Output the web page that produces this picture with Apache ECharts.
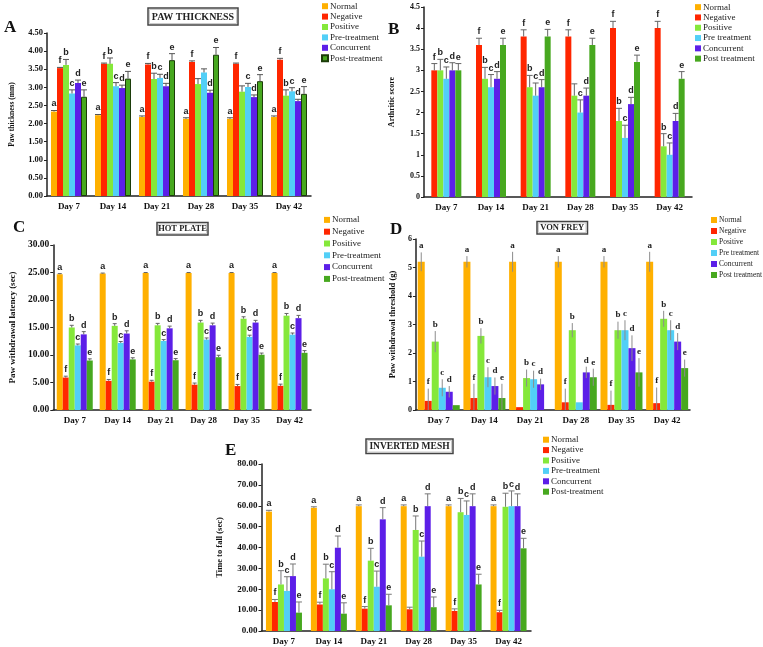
<!DOCTYPE html>
<html>
<head>
<meta charset="utf-8">
<script src="https://cdn.jsdelivr.net/npm/echarts@6/dist/echarts.min.js"></script>
<style>
  body { margin: 0; background: #fff; }
  #wrap { position: relative; width: 763px; height: 647px; overflow: hidden; }
  .panel { position: absolute; }
</style>
</head>
<body>
<div id="wrap">
  <div id="chartA" class="panel" style="left:0;top:0;width:386px;height:215px"></div>
  <div id="chartB" class="panel" style="left:380px;top:0;width:383px;height:215px"></div>
  <div id="chartC" class="panel" style="left:0;top:210px;width:386px;height:215px"></div>
  <div id="chartD" class="panel" style="left:380px;top:210px;width:383px;height:215px"></div>
  <div id="chartE" class="panel" style="left:180px;top:425px;width:440px;height:222px"></div>
</div>
<script>
// shared
const days = ['Day 7', 'Day 14', 'Day 21', 'Day 28', 'Day 35', 'Day 42'];
const groupsHyphen = ['Normal', 'Negative', 'Positive', 'Pre-treatment', 'Concurrent', 'Post-treatment'];
const groupsSpace = ['Normal', 'Negative', 'Positive', 'Pre treatment', 'Concurrent', 'Post treatment'];
const colors = ['#ffb000', '#ff2600', '#85e83a', '#52cff7', '#5c1fe8', '#47a81f'];

// A - paw thickness (mm)
const pawMean = [
  [2.33, 2.23, 2.18, 2.13, 2.13, 2.18],
  [3.53, 3.65, 3.63, 3.70, 3.65, 3.76],
  [3.62, 3.65, 3.23, 3.09, 2.88, 2.77],
  [2.83, 3.03, 3.26, 3.41, 3.01, 2.89],
  [3.12, 2.98, 3.03, 2.85, 2.73, 2.62],
  [2.74, 3.24, 3.75, 3.90, 3.17, 2.82]
];
const pawErr = [
  [0.03, 0.02, 0.03, 0.03, 0.03, 0.03],
  [0.02, 0.02, 0.03, 0.03, 0.02, 0.04],
  [0.15, 0.16, 0.16, 0.15, 0.16, 0.16],
  [0.10, 0.10, 0.10, 0.10, 0.10, 0.10],
  [0.08, 0.08, 0.08, 0.07, 0.06, 0.05],
  [0.19, 0.20, 0.18, 0.20, 0.18, 0.20]
];
const pawLetters = [
  ['a', 'a', 'a', 'a', 'a', 'a'],
  ['f', 'f', 'f', 'f', 'f', 'f'],
  ['b', 'b', 'b', '', '', 'b'],
  ['c', 'c', 'c', '', 'c', 'c'],
  ['d', 'd', 'd', 'd', 'd', 'd'],
  ['e', 'e', 'e', 'e', 'e', 'e']
];

// B - arthritic score (no Normal bars)
const arthMean = [
  [],
  [3.0, 3.6, 3.8, 3.8, 4.0, 4.0],
  [3.0, 2.8, 2.6, 2.4, 1.8, 1.2],
  [2.8, 2.6, 2.4, 2.0, 1.4, 1.0],
  [3.0, 2.8, 2.6, 2.4, 2.2, 1.8],
  [3.0, 3.6, 3.8, 3.6, 3.2, 2.8]
];
const arthErr = [
  [],
  [0.16, 0.16, 0.16, 0.16, 0.16, 0.16],
  [0.26, 0.27, 0.28, 0.28, 0.30, 0.30],
  [0.28, 0.30, 0.30, 0.30, 0.30, 0.28],
  [0.18, 0.17, 0.18, 0.18, 0.16, 0.18],
  [0.16, 0.16, 0.17, 0.16, 0.16, 0.17]
];
const arthLetters = [
  [],
  ['f', 'f', 'f', 'f', 'f', 'f'],
  ['b', 'b', 'b', '', 'b', 'b'],
  ['c', 'c', 'c', 'c', 'c', 'c'],
  ['d', 'd', 'd', 'd', 'd', 'd'],
  ['e', 'e', 'e', 'e', 'e', 'e']
];

// C - hot plate (sec)
const hotMean = [
  [24.7, 24.8, 24.9, 24.9, 24.9, 24.9],
  [5.9, 5.3, 5.15, 4.6, 4.35, 4.4],
  [15.0, 15.3, 15.4, 15.9, 16.6, 17.15],
  [11.75, 12.2, 12.55, 12.8, 13.3, 13.7],
  [13.75, 13.9, 14.85, 15.4, 15.9, 16.7],
  [9.0, 9.2, 9.05, 9.6, 10.05, 10.4]
];
const hotErr = [
  [0.1, 0.1, 0.1, 0.1, 0.1, 0.1],
  [0.25, 0.25, 0.25, 0.3, 0.3, 0.3],
  [0.4, 0.4, 0.35, 0.4, 0.35, 0.4],
  [0.25, 0.25, 0.25, 0.3, 0.3, 0.3],
  [0.5, 0.5, 0.4, 0.4, 0.4, 0.5],
  [0.3, 0.3, 0.3, 0.35, 0.3, 0.4]
];
const hotLetters = [
  ['a', 'a', 'a', 'a', 'a', 'a'],
  ['f', 'f', 'f', 'f', 'f', 'f'],
  ['b', 'b', 'b', 'b', 'b', 'b'],
  ['c', 'c', 'c', 'c', 'c', 'c'],
  ['d', 'd', 'd', 'd', 'd', 'd'],
  ['e', 'e', 'e', 'e', 'e', 'e']
];

// D - von frey (g)
const vonMean = [
  [5.2, 5.2, 5.2, 5.2, 5.2, 5.2],
  [0.32, 0.42, 0.1, 0.27, 0.18, 0.24],
  [2.4, 2.6, 1.12, 2.8, 2.8, 3.2],
  [0.78, 1.15, 1.08, 0.27, 2.8, 2.8],
  [0.64, 0.84, 0.9, 1.32, 2.17, 2.4],
  [0.17, 0.42, 0, 1.15, 1.32, 1.47]
];
const vonErr = [
  [0.33, 0.2, 0.35, 0.2, 0.2, 0.35],
  [0.43, 0.5, 0, 0.48, 0.5, 0.55],
  [0.37, 0.27, 0.3, 0.25, 0.3, 0.28],
  [0.3, 0.35, 0.3, 0, 0.35, 0.35],
  [0.2, 0.3, 0.2, 0.2, 0.45, 0.3],
  [0, 0.5, 0, 0.3, 0.5, 0.3]
];
const vonLetters = [
  ['a', 'a', 'a', 'a', 'a', 'a'],
  ['f', 'f', '', 'f', 'f', 'f'],
  ['b', 'b', 'b', 'b', 'b', 'b'],
  ['c', 'c', 'c', '', 'c', 'c'],
  ['d', 'd', 'd', 'd', 'd', 'd'],
  ['', 'e', '', 'e', 'e', 'e']
];

// E - inverted mesh (sec)
const meshMean = [
  [57.2, 59.0, 59.8, 59.8, 59.8, 59.8],
  [13.9, 12.7, 10.7, 10.4, 9.6, 9.0],
  [22.3, 25.2, 33.7, 48.4, 56.9, 59.5],
  [19.2, 20.0, 21.2, 35.6, 55.6, 59.8],
  [26.3, 39.9, 53.5, 59.8, 59.8, 59.8],
  [8.8, 8.3, 12.3, 11.4, 22.3, 39.6]
];
const meshErr = [
  [0.6, 0.5, 0.6, 0.6, 0.6, 0.6],
  [1.2, 1.1, 1.0, 1.0, 1.0, 0.9],
  [6.6, 6.8, 5.9, 6.7, 6.6, 6.5],
  [6.8, 8.4, 7.5, 7.5, 6.7, 7.3],
  [5.8, 5.6, 5.6, 5.9, 5.9, 5.9],
  [5.1, 5.2, 5.3, 4.9, 4.9, 4.8]
];
const meshLetters = [
  ['a', 'a', 'a', 'a', 'a', 'a'],
  ['f', 'f', 'f', '', 'f', 'f'],
  ['b', 'b', 'b', 'b', 'b', 'b'],
  ['c', 'c', 'c', 'c', 'c', 'c'],
  ['d', 'd', 'd', 'd', 'd', 'd'],
  ['e', 'e', 'e', 'e', 'e', 'e']
];

const SERIF = '"Liberation Serif", "Times New Roman", serif';
const SANS = '"Liberation Sans", Arial, sans-serif';

const panels = [
  {
    id: 'chartA', tag: 'A', tagPos: [4, 19], names: groupsHyphen,
    mean: pawMean, err: pawErr, letters: pawLetters,
    max: 4.5, interval: 0.5, digits: 2, yName: 'Paw thickness (mm)',
    grid: { left: 39, top: 33, width: 272, height: 163 },
    barWidth: 6, tickSize: 8.5, nameSize: 7.5, nameGap: 31,
    legend: { left: 321, top: 1, step: 10.4, size: 9 },
    title: { text: 'PAW THICKNESS', x: 148, y: 8, w: 90, h: 17, size: 10 },
    errColor: '#555', cap: 3, twoSided: false, letterFont: 'bold 9px ' + SANS,
    outline: { 5: '#1c3c0a' }
  },
  {
    id: 'chartB', tag: 'B', tagPos: [8, 21], names: groupsSpace,
    mean: arthMean, err: arthErr, letters: arthLetters,
    max: 4.5, interval: 0.5, digits: -1, yName: 'Arthritic score',
    grid: { left: 40, top: 7, width: 272, height: 190 },
    barWidth: 6, tickSize: 8, nameSize: 8, nameGap: 28,
    legend: { left: 315, top: 2, step: 10.3, size: 9 },
    title: null,
    errColor: '#666', cap: 3, twoSided: false, letterFont: 'bold 9px ' + SANS,
    outline: {}
  },
  {
    id: 'chartC', tag: 'C', tagPos: [13, 9], names: groupsHyphen,
    mean: hotMean, err: hotErr, letters: hotLetters,
    max: 30, interval: 5, digits: 2, yName: 'Paw withdrawal latency (sec)',
    grid: { left: 42, top: 35, width: 269, height: 165 },
    barWidth: 6, tickSize: 9.5, nameSize: 9, nameGap: 34,
    legend: { left: 324, top: 4, step: 11.8, size: 9 },
    title: { text: 'HOT PLATE', x: 157, y: 12.5, w: 51, h: 12.5, size: 8.5 },
    errColor: '#666', cap: 2, twoSided: false, letterFont: 'bold 9px ' + SANS,
    outline: {}
  },
  {
    id: 'chartD', tag: 'D', tagPos: [10, 11], names: groupsSpace,
    mean: vonMean, err: vonErr, letters: vonLetters,
    max: 6, interval: 1, digits: 0, yName: 'Paw withdrawal threshold (g)',
    grid: { left: 28, top: 29, width: 282, height: 171 },
    barWidth: 7, tickSize: 8, nameSize: 8.5, nameGap: 18,
    legend: { left: 331, top: 4.5, step: 11, size: 7.5 },
    title: { text: 'VON FREY', x: 157, y: 11.5, w: 50.5, h: 12.5, size: 8.5 },
    errColor: '#8c8c8c', cap: 0, twoSided: true, letterFont: 'bold 9px ' + SERIF,
    outline: {}
  },
  {
    id: 'chartE', tag: 'E', tagPos: [45, 17], names: groupsHyphen,
    mean: meshMean, err: meshErr, letters: meshLetters,
    max: 80, interval: 10, digits: 2, yName: 'Time to fall (sec)',
    grid: { left: 81.5, top: 39, width: 269.5, height: 167 },
    barWidth: 6, tickSize: 9, nameSize: 8.5, nameGap: 37,
    legend: { left: 363, top: 9.5, step: 10.4, size: 9 },
    title: { text: 'INVERTED MESH', x: 186, y: 14, w: 87, h: 14.5, size: 9.5 },
    errColor: '#777', cap: 3, twoSided: false, letterFont: 'bold 9px ' + SANS,
    outline: {}
  }
];

function buildOption(cfg) {
  const barRows = [];
  cfg.mean.forEach((row, i) => { if (row.length) barRows.push(i); });
  const n = barRows.length;

  const series = cfg.names.map((name, i) => {
    if (!cfg.mean[i].length) {
      // legend entry only
      return { name, type: 'line', data: [], color: colors[i] };
    }
    const style = { color: colors[i] };
    if (cfg.outline[i]) {
      style.borderColor = cfg.outline[i];
      style.borderWidth = 1;
    }
    return {
      name, type: 'bar', data: cfg.mean[i],
      barWidth: cfg.barWidth, barGap: 0,
      itemStyle: style
    };
  });

  const marks = [];
  barRows.forEach((i, k) => {
    cfg.mean[i].forEach((v, d) => {
      marks.push({ value: [d, k, v, cfg.err[i][d]], letter: cfg.letters[i][d] });
    });
  });

  series.push({
    type: 'custom',
    silent: true,
    z: 5,
    data: marks,
    encode: { x: 0, y: 2 },
    renderItem: (params, api) => {
      const d = api.value(0), k = api.value(1), v = api.value(2), e = api.value(3);
      const x = api.coord([d, 0])[0] + (k - (n - 1) / 2) * cfg.barWidth;
      const yTop = api.coord([d, v + e])[1];
      const yLow = api.coord([d, cfg.twoSided ? Math.max(0, v - e) : v])[1];
      const children = [];
      if (e > 0) {
        children.push({ type: 'line', shape: { x1: x, y1: yLow, x2: x, y2: yTop },
          style: { stroke: cfg.errColor, lineWidth: 1 } });
        if (cfg.cap) {
          children.push({ type: 'line', shape: { x1: x - cfg.cap, y1: yTop, x2: x + cfg.cap, y2: yTop },
            style: { stroke: cfg.errColor, lineWidth: 1 } });
        }
      }
      const letter = marks[params.dataIndex].letter;
      if (letter) {
        children.push({ type: 'text', style: {
          text: letter, x: x, y: yTop - 2, textAlign: 'center', textVerticalAlign: 'bottom',
          font: cfg.letterFont, fill: '#222' } });
      }
      return { type: 'group', children };
    }
  });

  const graphic = [{
    type: 'text', left: cfg.tagPos[0], top: cfg.tagPos[1],
    style: { text: cfg.tag, font: 'bold 17px ' + SERIF, fill: '#111' }
  }];
  if (cfg.title) {
    const t = cfg.title;
    graphic.push({
      type: 'group', children: [
        { type: 'rect', shape: { x: t.x, y: t.y, width: t.w, height: t.h },
          style: { fill: '#fff', stroke: '#444', lineWidth: 1.5 } },
        { type: 'rect', shape: { x: t.x + 1.5, y: t.y + 1.5, width: t.w - 3, height: t.h - 3 },
          style: { fill: 'none', stroke: '#aaa', lineWidth: 0.6 } },
        { type: 'text', style: { text: t.text, x: t.x + t.w / 2, y: t.y + t.h / 2 + 0.5,
          textAlign: 'center', textVerticalAlign: 'middle',
          font: 'bold ' + t.size + 'px ' + SERIF, fill: '#222' } }
      ]
    });
  }

  return {
    animation: false,
    grid: cfg.grid,
    legend: {
      orient: 'vertical', left: cfg.legend.left, top: cfg.legend.top,
      padding: 0, itemGap: 0, itemWidth: 6, itemHeight: 6, icon: 'rect',
      selectedMode: false, data: cfg.names,
      textStyle: {
        fontFamily: SERIF, fontSize: cfg.legend.size, color: '#222',
        lineHeight: cfg.legend.step, padding: [0, 0, 0, -3]
      }
    },
    xAxis: {
      type: 'category', data: days,
      axisLine: { lineStyle: { color: '#222', width: 1.5 } },
      axisTick: { show: false },
      axisLabel: { fontFamily: SERIF, fontWeight: 'bold', fontSize: 9, color: '#111', margin: 6, interval: 0 }
    },
    yAxis: {
      type: 'value', min: 0, max: cfg.max, interval: cfg.interval,
      name: cfg.yName, nameLocation: 'middle', nameGap: cfg.nameGap,
      nameTextStyle: { fontFamily: SERIF, fontWeight: 'bold', fontSize: cfg.nameSize, color: '#111' },
      axisLine: { show: true, lineStyle: { color: '#222', width: 1.5 } },
      axisTick: { show: true, length: 3, lineStyle: { color: '#222' } },
      splitLine: { show: false },
      axisLabel: {
        fontFamily: SERIF, fontWeight: 'bold', fontSize: cfg.tickSize, color: '#111', margin: 4,
        formatter: v => cfg.digits >= 0 ? v.toFixed(cfg.digits) : String(v)
      }
    },
    graphic,
    series
  };
}

panels.forEach(cfg => {
  const chart = echarts.init(document.getElementById(cfg.id));
  chart.setOption(buildOption(cfg));
});
</script>
</body>
</html>
